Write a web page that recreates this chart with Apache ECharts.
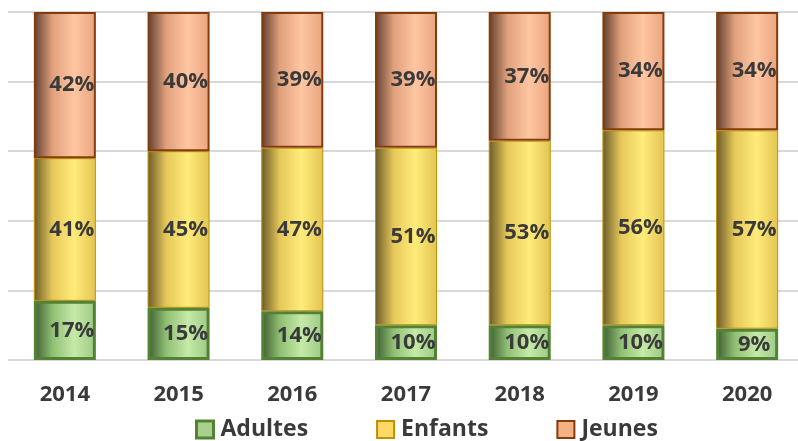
<!DOCTYPE html>
<html>
<head>
<meta charset="utf-8">
<script src="https://cdn.jsdelivr.net/npm/echarts@6/dist/echarts.min.js"></script>
<style>
  html,body{margin:0;padding:0;background:#fff;overflow:hidden;}
  #main{width:806px;height:441px;}
</style>
</head>
<body>
<div id="main"></div>
<script>
// 数据
const years = ['2014', '2015', '2016', '2017', '2018', '2019', '2020'];
const adultes = [17, 15, 14, 10, 10, 10, 9];
const enfants = [41, 45, 47, 51, 53, 56, 57];
const jeunes = [42, 40, 39, 39, 37, 34, 34];

const chart = echarts.init(document.getElementById('main'));

function grad(dark, mid, light, edge) {
  return new echarts.graphic.LinearGradient(0, 0, 1, 0, [
    {offset: 0, color: dark},
    {offset: 0.3, color: mid},
    {offset: 0.65, color: light},
    {offset: 1, color: edge}
  ]);
}

const labelStyle = {
  show: true,
  position: 'inside',
  offset: [7, 0],
  formatter: '{c}%',
  color: '#3a3a3a',
  fontSize: 22,
  fontWeight: 'bold',
  fontFamily: 'Open Sans'
};

const option = {
  animation: false,
  grid: {
    left: 8,
    right: 2,
    top: 12,
    bottom: 81
  },
  legend: {
    top: 413,
    left: 190,
    itemWidth: 17,
    itemHeight: 17,
    itemGap: 68,
    textStyle: {
      color: '#3a3a3a',
      fontSize: 23,
      fontWeight: 'bold',
      fontFamily: 'Open Sans',
      padding: [0, 0, 0, 2]
    },
    data: [
      {name: 'Adultes', icon: 'rect', itemStyle: {color: '#A9D18E', borderColor: '#548235', borderWidth: 3}},
      {name: 'Enfants', icon: 'rect', itemStyle: {color: '#FFD966', borderColor: '#BF9000', borderWidth: 2}},
      {name: 'Jeunes', icon: 'rect', itemStyle: {color: '#F4B183', borderColor: '#843C0C', borderWidth: 2}}
    ]
  },
  xAxis: {
    type: 'category',
    data: years,
    axisLine: {show: false},
    axisTick: {show: false},
    axisLabel: {
      margin: 24,
      color: '#3a3a3a',
      fontSize: 22,
      fontWeight: 'bold',
      fontFamily: 'Open Sans'
    }
  },
  yAxis: {
    type: 'value',
    min: 0,
    max: 100,
    interval: 20,
    axisLabel: {show: false},
    axisLine: {show: false},
    axisTick: {show: false},
    splitLine: {lineStyle: {color: '#D9D9D9', width: 2}}
  },
  series: [
    {
      name: 'Adultes',
      type: 'bar',
      stack: 'total',
      barWidth: 62,
      data: adultes,
      z: 3,
      itemStyle: {
        color: grad('#3d5a30', '#8fbf73', '#c6eaa8', '#9cc884'),
        borderColor: '#548235',
        borderWidth: 3
      },
      label: labelStyle
    },
    {
      name: 'Enfants',
      type: 'bar',
      stack: 'total',
      barWidth: 62,
      data: enfants,
      itemStyle: {
        color: grad('#6a5a2a', '#e6c85a', '#ffec7a', '#e2c452'),
        borderColor: '#BF9000',
        borderWidth: 1
      },
      label: labelStyle
    },
    {
      name: 'Jeunes',
      type: 'bar',
      stack: 'total',
      barWidth: 62,
      data: jeunes,
      itemStyle: {
        color: grad('#5e3e2e', '#e0a07c', '#ffc6a2', '#e8a47e'),
        borderColor: '#843C0C',
        borderWidth: 2
      },
      label: labelStyle
    }
  ]
};

chart.setOption(option);
</script>
</body>
</html>
